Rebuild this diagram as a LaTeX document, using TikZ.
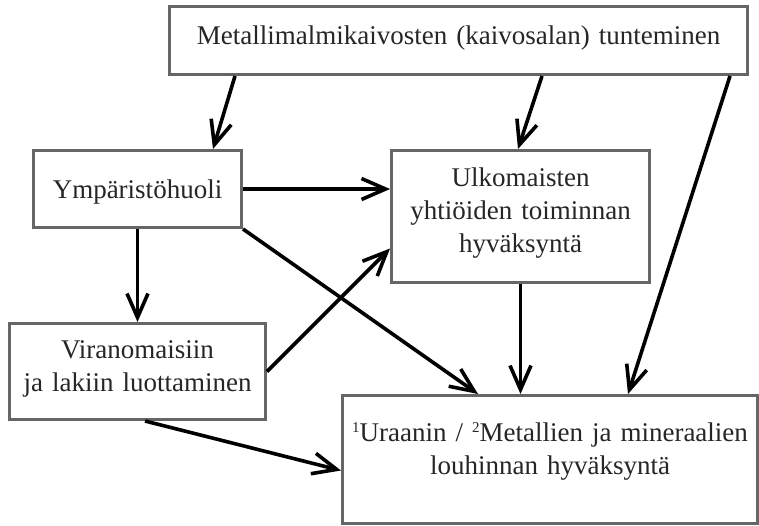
\documentclass[tikz,border=0pt]{standalone}
\usepackage{fontspec}
\setmainfont{Liberation Serif}
\usetikzlibrary{arrows.meta}

\newcommand{\ylaind}[1]{\raisebox{9pt}{\fontsize{15}{15}\selectfont #1}}

\tikzset{
    blok/.style={draw=black!60, line width=3pt, fill=white, inner sep=0pt,
        align=center, anchor=north west, text=black!85,
        font=\fontsize{27}{33}\selectfont},
    nuoli/.style={line width=3.6pt, -{Straight Barb[length=24pt,width=21pt]}}
}

\begin{document}
\begin{tikzpicture}[x=1pt, y=-1pt]
        \useasboundingbox (0, 0) rectangle (759, 525);

        \node[blok, text width=578pt, text height=38pt, text depth=30pt] (tunt) at (168, 5)
            {Metallimalmikaivosten (kaivosalan) tunteminen};
        \node[blok, text width=208pt, text height=48pt, text depth=29pt] (ymp) at (32, 149)
            {Ympäristöhuoli};
        \node[blok, text width=258pt, text height=36pt, text depth=96pt] (ulk) at (390, 149)
            {Ulkomaisten\\ yhtiöiden toiminnan\\ hyväksyntä};
        \node[blok, text width=256pt, text height=35pt, text depth=61pt] (vir) at (8, 322)
            {Viranomaisiin\\ ja lakiin luottaminen};
        \node[blok, text width=415pt, text height=46pt, text depth=82pt] (hyv) at (341, 394)
            {\ylaind{1}Uraanin / \ylaind{2}Metallien ja mineraalien\\ louhinnan hyväksyntä};

        % from the top box
        \draw[nuoli] ([xshift=67pt]tunt.south west) -- ([xshift=181pt]ymp.north west);
        \draw[nuoli] ([xshift=374pt]tunt.south west) -- ([xshift=128pt]ulk.north west);
        \draw[nuoli] ([xshift=562pt]tunt.south west) -- ([xshift=287pt]hyv.north west);

        \draw[nuoli] (ymp.east) -- (ymp.east -| ulk.west);
        \draw[nuoli] (ymp.south) -- (vir.north);
        \draw[nuoli] (ymp.south east) -- ([xshift=137pt]hyv.north west);

        \draw[nuoli] (vir.east) -- ([yshift=-32pt]ulk.west);
        \draw[nuoli] ([xshift=137pt]vir.south west) -- ([yshift=-11pt]hyv.west);

        \draw[nuoli] (ulk.south) -- (ulk.south |- hyv.north);

    \end{tikzpicture}
\end{document}
